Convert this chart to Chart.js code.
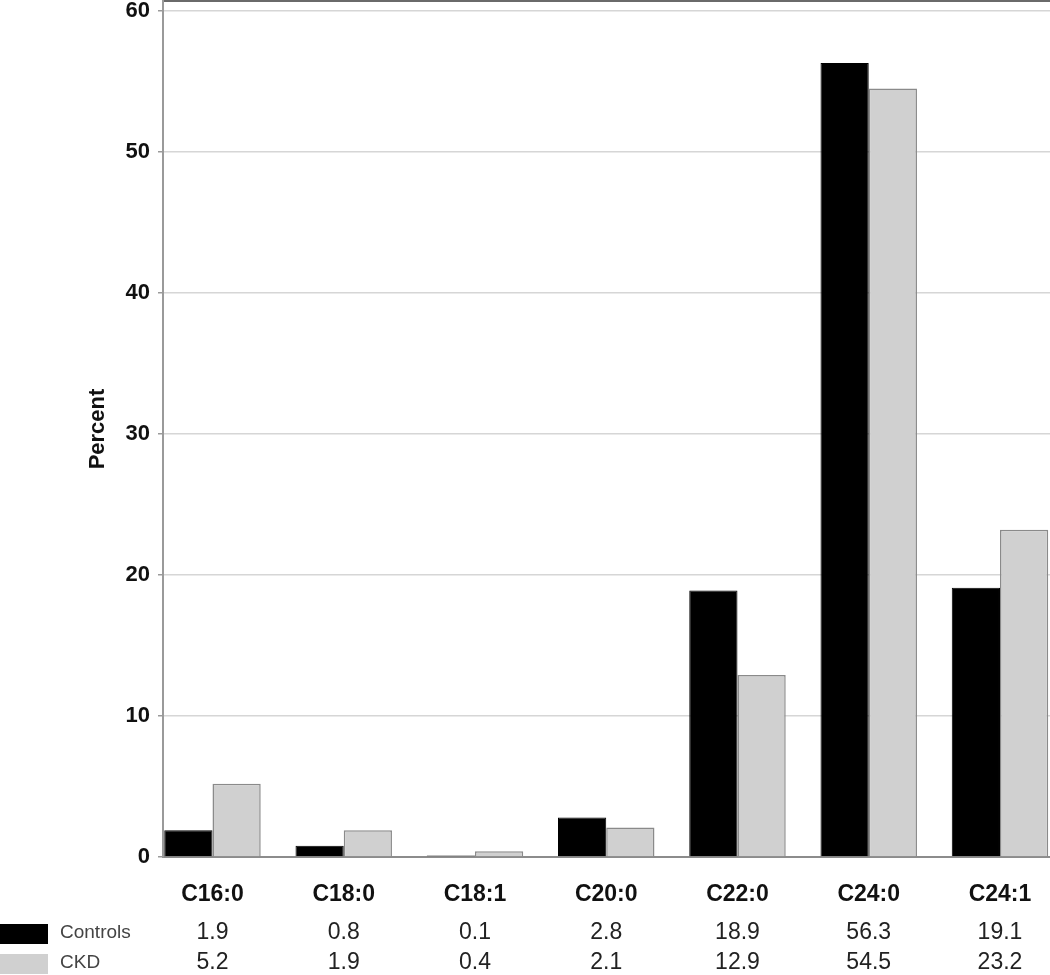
<!DOCTYPE html>
<html>
<head>
<meta charset="utf-8">
<script src="https://cdn.jsdelivr.net/npm/chart.js@4.4.1/dist/chart.umd.min.js"></script>
<style>
  html, body { margin: 0; padding: 0; background: #fff; overflow: hidden; }
  #wrap { width: 1050px; height: 975px; position: relative; }
</style>
</head>
<body>
<div id="wrap"><canvas id="chart"></canvas></div>
<script>
const categories = ["C16:0", "C18:0", "C18:1", "C20:0", "C22:0", "C24:0", "C24:1"];
const controls = [1.9, 0.8, 0.1, 2.8, 18.9, 56.3, 19.1];
const ckd = [5.2, 1.9, 0.4, 2.1, 12.9, 54.5, 23.2];
const seriesNames = ["Controls", "CKD"];
const yTicks = [0, 10, 20, 30, 40, 50, 60];

const FONT = '"Liberation Sans", Arial, sans-serif';
Chart.defaults.font.family = FONT;
Chart.defaults.color = "#111";

// bars sit at the left of each slot, the slot is wider than the pair
const slotStart = -0.377;
const slotRange = 6.758;

function noPad(s) {
    s.paddingTop = 0;
    s.paddingBottom = 0;
    s.paddingLeft = 0;
    s.paddingRight = 0;
}

// data table under the axis, columns follow the x scale
const tablePlugin = {
    id: "table",
    afterDraw(chart) {
        const { ctx, scales: { x } } = chart;
        const rows = [
            { name: seriesNames[0], data: controls, fill: "#000", y: 933 },
            { name: seriesNames[1], data: ckd, fill: "#d0d0d0", y: 963 }
        ];
        ctx.save();
        ctx.textBaseline = "middle";
        rows.forEach(r => {
            ctx.fillStyle = r.fill;
            ctx.fillRect(0, r.y - 9, 48, 20);
            ctx.font = "19px " + FONT;
            ctx.fillStyle = "#444";
            ctx.textAlign = "left";
            ctx.fillText(r.name, 60, r.y);
            ctx.font = "23px " + FONT;
            ctx.fillStyle = "#222";
            ctx.textAlign = "center";
            r.data.forEach((v, i) => ctx.fillText(v.toFixed(1), x.getPixelForValue(i), r.y));
        });
        ctx.restore();
    }
};

new Chart(document.getElementById("chart"), {
    type: "bar",
    data: {
        labels: categories,
        datasets: [
            {
                label: seriesNames[0],
                data: controls,
                backgroundColor: "#000",
                borderColor: "#000",
                borderWidth: 1
            },
            {
                label: seriesNames[1],
                data: ckd,
                backgroundColor: "#d0d0d0",
                borderColor: "#8a8a8a",
                borderWidth: 1.5
            }
        ]
    },
    options: {
        responsive: true,
        maintainAspectRatio: false,
        animation: false,
        events: [],
        layout: { padding: { top: 1, right: 0, left: 0, bottom: 0 } },
        datasets: { bar: { categoryPercentage: 0.735, barPercentage: 1 } },
        plugins: { legend: { display: false }, tooltip: { enabled: false } },
        scales: {
            x: {
                offset: true,
                grid: { display: false, drawTicks: false },
                border: { display: true, color: "#8c8c8c", width: 2 },
                ticks: {
                    font: { size: 23, weight: "bold" },
                    color: "#111",
                    padding: 24,
                    maxRotation: 0
                },
                afterBuildTicks: s => {
                    s._startValue = slotStart;
                    s._valueRange = slotRange;
                },
                afterFit: s => { s.height = 118; noPad(s); }
            },
            top: {
                type: "category",
                position: "top",
                labels: categories,
                grid: { display: false, drawTicks: false },
                border: { display: true, color: "#6a6a6a", width: 2 },
                ticks: { display: false },
                afterFit: s => { s.height = 0; noPad(s); }
            },
            y: {
                min: 0,
                max: 60.7,
                afterBuildTicks: s => { s.ticks = yTicks.map(v => ({ value: v })); },
                ticks: {
                    font: { size: 22, weight: "bold" },
                    color: "#111",
                    padding: 8
                },
                grid: {
                    color: "#d6d6d6",
                    lineWidth: 1.5,
                    tickLength: 5,
                    tickColor: "#9a9a9a"
                },
                border: { display: true, color: "#9a9a9a", width: 2 },
                title: {
                    display: true,
                    text: "Percent",
                    font: { size: 22, weight: "bold" },
                    color: "#111",
                    padding: { top: 85, bottom: 0 }
                },
                afterFit: s => { s.width = 163; noPad(s); }
            }
        }
    },
    plugins: [tablePlugin]
});
</script>
</body>
</html>
